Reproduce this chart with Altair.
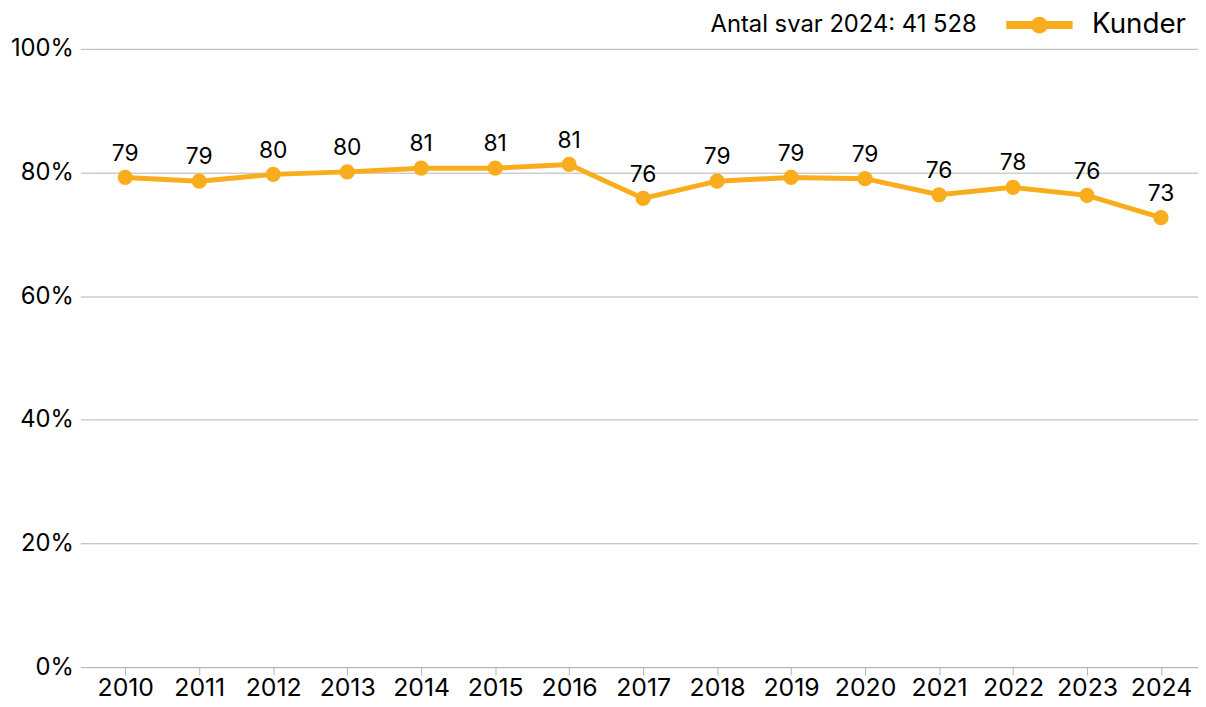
import altair as alt
import pandas as pd

years = [str(y) for y in range(2010, 2025)]
values = [79.2, 78.6, 79.7, 80.1, 80.7, 80.7, 81.3, 75.8, 78.6, 79.2, 79.0, 76.4, 77.6, 76.3, 72.7]
labels = ["79", "79", "80", "80", "81", "81", "81", "76", "79", "79", "79", "76", "78", "76", "73"]
series = ["Kunder"] * len(years)
legend_title = "Antal svar 2024: 41 528"

ORANGE = "#F9AD1D"
GRID = "#B3B3B3"
FONT = "Inter"

df = pd.DataFrame({
    "year": years,
    "value": [v / 100 for v in values],
    "label": labels,
    "series": series,
})

sym = ("M-3.35,-0.4H3.35V0.4H-3.35Z "
       "M0.85,0A0.85,0.85 0 1,1 -0.85,0A0.85,0.85 0 1,1 0.85,0Z")

x = alt.X("year:N", title=None, scale=alt.Scale(type="point", padding=0.5),
          axis=alt.Axis(labelAngle=0, labelFontSize=25, labelFont=FONT, labelColor="#000",
                        tickSize=8, tickColor=GRID, domainColor=GRID, grid=False, labelPadding=1))
y = alt.Y("value:Q", title=None, scale=alt.Scale(domain=[0, 1]),
          axis=alt.Axis(values=[0, 0.2, 0.4, 0.6, 0.8, 1.0], format=".0%", grid=True,
                        gridColor=GRID, domain=False, tickSize=8, tickColor=GRID,
                        labelFontSize=24, labelFont=FONT, labelColor="#000", labelPadding=7))

base = alt.Chart(df)

line = base.mark_line(color=ORANGE, strokeWidth=5).encode(x=x, y=y)

points = base.mark_point(filled=True, size=235, opacity=1).encode(
    x=x, y=y,
    color=alt.Color("series:N", scale=alt.Scale(domain=["Kunder"], range=[ORANGE]),
                    legend=alt.Legend(title=legend_title, titleOrient="left", orient="none",
                                      legendX=628, legendY=-38, symbolType=sym, symbolSize=400,
                                      symbolFillColor=ORANGE, symbolStrokeWidth=0,
                                      titleFontSize=24, titleFontWeight="normal", titleFont=FONT,
                                      titleColor="#000", titleLimit=500, labelLimit=300,
                                      labelFontSize=28, labelFont=FONT,
                                      labelColor="#000", titlePadding=49, labelOffset=39,
                                      titleBaseline="middle")),
)

text = base.mark_text(dy=-24, fontSize=23, font=FONT, color="#000").encode(
    x=x, y=y, text="label:N")

chart = alt.layer(line, points, text).properties(
    width=1120, height=624,
    padding={"left": 2, "top": 0, "right": 0, "bottom": 0},
).configure_view(stroke=None)

chart.save("out.html", embed_options={"renderer": "svg", "actions": False})
